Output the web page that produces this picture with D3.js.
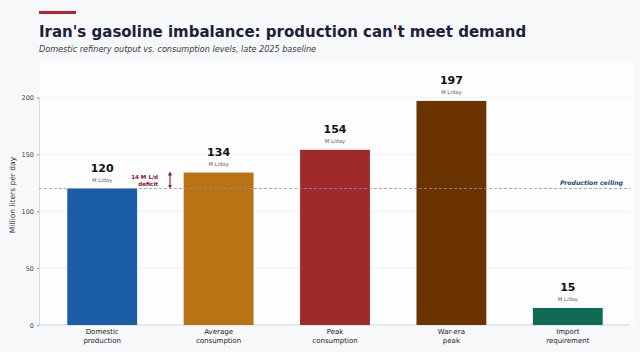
<!DOCTYPE html>
<html><head><meta charset="utf-8">
<script src="https://cdn.jsdelivr.net/npm/d3@7"></script>
<style>body{margin:0;background:#f7f8fa;}svg{display:block;font-family:"DejaVu Sans",sans-serif;}</style>
</head><body>
<script>
const categories = [["Domestic","production"],["Average","consumption"],["Peak","consumption"],["War-era","peak"],["Import","requirement"]];
const values = [120, 134, 154, 197, 15];
const colors = ["#1a5ca6","#b97314","#9e2a2b","#6b3300","#0f6b55"];
const yTicks = [0, 50, 100, 150, 200];
const ceiling = 120;

const W = 640, H = 352;
const svg = d3.select("body").append("svg").attr("width", W).attr("height", H);
svg.append("rect").attr("width", W).attr("height", H).attr("fill", "#f7f8fa");
svg.append("rect").attr("x", 39).attr("y", 62).attr("width", 595).attr("height", 263).attr("fill", "#fdfdfe");

const x = d3.scaleBand().domain(d3.range(values.length)).range([44, 626]).paddingInner(0.4).paddingOuter(0.2);
const y = d3.scaleLinear().domain([0, 200]).range([325, 97.5]);

// accent + titles
svg.append("rect").attr("x", 39).attr("y", 11).attr("width", 37).attr("height", 3).attr("fill", "#b52131");
svg.append("text").attr("x", 39).attr("y", 37).attr("font-size", 15).attr("font-weight", "bold").attr("fill", "#1b2238")
  .text("Iran's gasoline imbalance: production can't meet demand");
svg.append("text").attr("x", 39).attr("y", 52).attr("font-size", 8.1).attr("font-style", "italic").attr("fill", "#333a48")
  .text("Domestic refinery output vs. consumption levels, late 2025 baseline");

// grid
svg.append("g").selectAll("line").data(yTicks).join("line")
  .attr("x1", 39).attr("x2", 630).attr("y1", d => y(d)).attr("y2", d => y(d))
  .attr("stroke", "#eceef2").attr("stroke-width", 0.8);

// y axis
const ya = svg.append("g").attr("transform", "translate(39,0)").call(d3.axisLeft(y).tickValues(yTicks).tickSize(2).tickPadding(3));
ya.select(".domain").attr("stroke", "#d8dbe0");
ya.selectAll(".tick line").attr("stroke", "#999");
ya.selectAll("text").attr("font-size", 6.5).attr("fill", "#444").attr("font-family", "DejaVu Sans");

svg.append("text").attr("transform", "translate(15,195) rotate(-90)").attr("text-anchor", "middle")
  .attr("font-size", 7.5).attr("fill", "#333").text("Million liters per day");

// x axis baseline
svg.append("line").attr("x1", 39).attr("x2", 630).attr("y1", y(0)).attr("y2", y(0)).attr("stroke", "#d8dbe0");

// bars
svg.append("g").selectAll("rect").data(values).join("rect")
  .attr("x", (d, i) => x(i)).attr("width", x.bandwidth())
  .attr("y", d => y(d)).attr("height", d => y(0) - y(d))
  .attr("fill", (d, i) => colors[i]);

// ceiling line
svg.append("line").attr("x1", 39).attr("x2", 630).attr("y1", y(ceiling)).attr("y2", y(ceiling))
  .attr("stroke", "#8a96a6").attr("stroke-width", 0.8).attr("stroke-dasharray", "3,2");
svg.append("text").attr("x", 623).attr("y", y(ceiling) - 4).attr("text-anchor", "end")
  .attr("font-size", 6.2).attr("font-style", "italic").attr("font-weight", "bold").attr("fill", "#2c4a7a").text("Production ceiling");

// value labels
const vl = svg.append("g");
vl.selectAll("text.v").data(values).join("text").attr("class", "v")
  .attr("x", (d, i) => x(i) + x.bandwidth() / 2).attr("y", d => y(d) - 17)
  .attr("text-anchor", "middle").attr("font-size", 11).attr("font-weight", "bold").attr("fill", "#111")
  .text(d => d);
vl.selectAll("text.u").data(values).join("text").attr("class", "u")
  .attr("x", (d, i) => x(i) + x.bandwidth() / 2).attr("y", d => y(d) - 6.5)
  .attr("text-anchor", "middle").attr("font-size", 5.2).attr("fill", "#555")
  .text("M L/day");

// category labels
const cl = svg.append("g");
categories.forEach((c, i) => {
  c.forEach((line, j) => {
    cl.append("text").attr("x", x(i) + x.bandwidth() / 2).attr("y", 334 + j * 8.5)
      .attr("text-anchor", "middle").attr("font-size", 7).attr("fill", "#222").text(line);
  });
});

// deficit annotation
const ax = 170;
const defs = svg.append("defs");
defs.append("marker").attr("id", "ah").attr("viewBox", "0 0 6 6").attr("refX", 3).attr("refY", 3)
  .attr("markerWidth", 4).attr("markerHeight", 4).attr("orient", "auto-start-reverse")
  .append("path").attr("d", "M0,0 L6,3 L0,6 Z").attr("fill", "#7a0f23");
svg.append("line").attr("x1", ax).attr("x2", ax).attr("y1", y(values[0]) - 2).attr("y2", y(values[1]) + 1)
  .attr("stroke", "#7a0f23").attr("stroke-width", 1)
  .attr("marker-start", "url(#ah)").attr("marker-end", "url(#ah)");
svg.append("text").attr("x", 158).attr("y", 178.5).attr("text-anchor", "end").attr("font-size", 5.6)
  .attr("font-weight", "bold").attr("fill", "#8a1025").text(`${values[1] - values[0]} M L/d`);
svg.append("text").attr("x", 158).attr("y", 185.5).attr("text-anchor", "end").attr("font-size", 5.6)
  .attr("font-weight", "bold").attr("fill", "#8a1025").text("deficit");
</script>
</body></html>
